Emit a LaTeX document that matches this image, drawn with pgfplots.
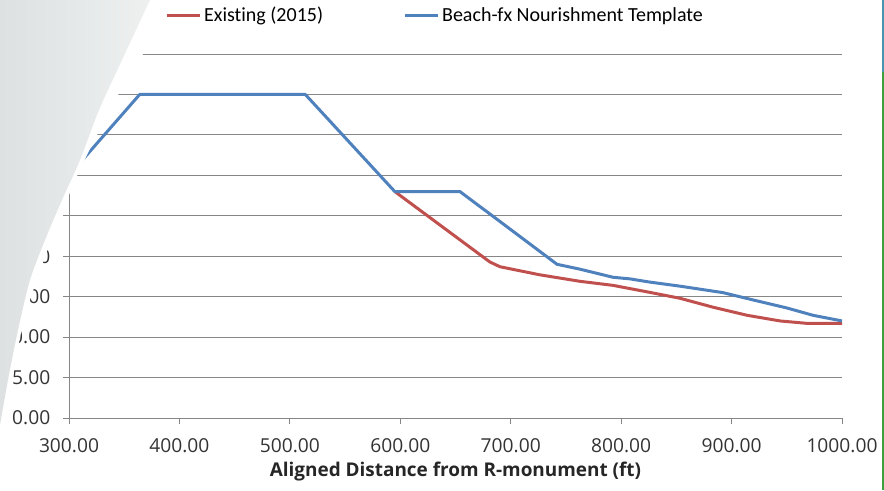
\documentclass[border=0pt]{standalone}
\usepackage{pgfplots}
\pgfplotsset{compat=1.18}
\usepackage{fontspec}
\setmainfont{Open Sans}
\newfontfamily\legfont[Ligatures=NoCommon]{Carlito}
\definecolor{exred}{RGB}{192,80,77}
\definecolor{bfblue}{RGB}{79,129,189}
\definecolor{gridgray}{RGB}{134,134,134}
\definecolor{ovgrayA}{RGB}{221,225,225}
\definecolor{ovgrayB}{RGB}{238,240,240}
\definecolor{edgegreen}{RGB}{60,160,60}
\definecolor{edgeteal}{RGB}{70,150,175}
\begin{document}
\begin{tikzpicture}
\useasboundingbox (0,0) rectangle (663pt,-367.5pt);
\begin{axis}[
 at={(51.75pt,-313.5pt)}, anchor=south west,
 scale only axis, width=579.75pt, height=273pt,
 xmin=300, xmax=1000, ymin=0, ymax=45,
 xtick={300,400,...,1000}, ytick={0,5,...,45},
 axis x line=bottom, axis y line=left,
 axis line style={gridgray, line width=0.75pt, -},
 ymajorgrids, grid style={gridgray, line width=0.75pt},
 tick align=outside, major tick length=4.5pt,
 tick style={gridgray, line width=0.75pt},
 /pgf/number format/.cd, fixed, fixed zerofill, precision=2, 1000 sep={}, assume math mode=true, /pgfplots/.cd,
 ticklabel style={font=\fontsize{14.4}{17}\selectfont, text=black!80},
 xticklabel style={yshift=-7.5pt},
 yticklabel style={xshift=-6pt},
 xlabel={\textbf{Aligned Distance from R-monument (ft)}},
 xlabel style={at={(axis description cs:0.5,-0.146)}, anchor=center, font=\fontsize{14.2}{17}\selectfont, text=black!85},
 legend columns=2,
 legend style={at={(axis description cs:0.124,1.107)}, anchor=west, draw=none, fill=none,
   font=\legfont\fontsize{15}{18}\selectfont, inner sep=0pt,
   /tikz/every even column/.append style={column sep=58pt}},
 legend image code/.code={\draw[#1] (0pt,0pt) -- (25pt,0pt);},
 legend cell align=left,
]
\addplot[exred, line width=2.25pt, line join=round] coordinates {
 (595,28.0) (681,19.3) (690.3,18.7) (708.4,18.2) (726.5,17.7) (744.6,17.3)
 (762.7,16.9) (792.6,16.4) (823.4,15.6) (853.3,14.8) (883.2,13.7) (914.0,12.7)
 (943.9,12.0) (968.3,11.7) (1000,11.7)
};
\addlegendentry{Existing (2015)}
\addplot[bfblue, line width=2.25pt, line join=round] coordinates {
 (300,30.0) (364,40) (514,40) (595,28) (654,28) (742,19.0) (762.7,18.4)
 (792.6,17.4) (808,17.2) (826.1,16.8) (853.3,16.3) (892.2,15.5) (919.4,14.6)
 (950.2,13.6) (973.7,12.7) (1000,12.0)
};
\addlegendentry{Beach-fx Nourishment Template}
\end{axis}
\begin{scope}[x=0.75pt,y=-0.75pt]
\fill[white] (0,0) -- plot[smooth] coordinates {(172,0) (143,54) (118,95) (97,135) (86,157) (77,176) (69,195) (60,216) (45,257) (31,297) (20,337) (13,378) (7,418) (0,460)} -- cycle;
\shade[left color=ovgrayA, right color=ovgrayB] (0,0) -- plot[smooth] coordinates {(150,0) (122,60) (99,110) (80,160) (62,200) (45,240) (30,280) (18,330) (8,380) (0,425)} -- cycle;
\draw[edgeteal, line width=1.5pt] (883,0) -- (883,72);
\draw[edgegreen, line width=1.5pt] (883,72) -- (883,490);
\end{scope}
\end{tikzpicture}
\end{document}
